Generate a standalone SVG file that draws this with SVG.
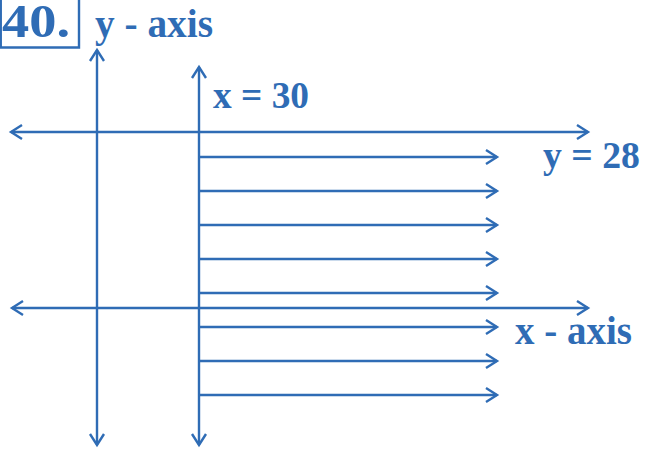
<svg xmlns="http://www.w3.org/2000/svg" width="645" height="450" viewBox="0 0 645 450">
  <style>
    .ln { stroke: #2f6cb5; stroke-width: 2.4; fill: none; }
    .lbl { font-family: "Liberation Serif", "Times New Roman", serif; font-weight: bold; fill: #2f6cb5; }
  </style>
  <defs>
    <marker id="head" markerUnits="userSpaceOnUse" markerWidth="16" markerHeight="18" viewBox="-13 -9 16 18" refX="0" refY="0" orient="auto-start-reverse">
      <path d="M-11,-7 L0,0 L-11,7" fill="none" stroke="#2f6cb5" stroke-width="2.4"/>
    </marker>
  </defs>

  <rect width="645" height="450" fill="#ffffff"/>

  <!-- question number -->
  <g id="qnum">
    <path class="ln" d="M0.75,-2 V47.5 H79 V-2" stroke-width="1.5"/>
    <text class="lbl" x="2" y="37" font-size="46" textLength="68" lengthAdjust="spacingAndGlyphs">40.</text>
  </g>

  <!-- axes and lines -->
  <g id="connectors">
    <line id="y-axis" class="ln" x1="97" y1="445" x2="97" y2="50" marker-start="url(#head)" marker-end="url(#head)"/>
    <line id="x30" class="ln" x1="199" y1="445" x2="199" y2="67" marker-start="url(#head)" marker-end="url(#head)"/>
    <line id="y28" class="ln" x1="11" y1="132" x2="588" y2="132" marker-start="url(#head)" marker-end="url(#head)"/>
    <line id="x-axis" class="ln" x1="12" y1="308" x2="588" y2="308" marker-start="url(#head)" marker-end="url(#head)"/>
    <g id="region-arrows">
      <line class="ln" x1="199" y1="157" x2="497" y2="157" marker-end="url(#head)"/>
      <line class="ln" x1="199" y1="191" x2="497" y2="191" marker-end="url(#head)"/>
      <line class="ln" x1="199" y1="225" x2="497" y2="225" marker-end="url(#head)"/>
      <line class="ln" x1="199" y1="259" x2="497" y2="259" marker-end="url(#head)"/>
      <line class="ln" x1="199" y1="293" x2="497" y2="293" marker-end="url(#head)"/>
      <line class="ln" x1="199" y1="327" x2="497" y2="327" marker-end="url(#head)"/>
      <line class="ln" x1="199" y1="361" x2="497" y2="361" marker-end="url(#head)"/>
      <line class="ln" x1="199" y1="395" x2="497" y2="395" marker-end="url(#head)"/>
    </g>
  </g>

  <!-- labels -->
  <g id="label-y-axis"><text class="lbl" x="95" y="37" font-size="40" textLength="118" lengthAdjust="spacingAndGlyphs">y - axis</text></g>
  <g id="label-x30"><text class="lbl" x="213" y="108" font-size="37" textLength="96" lengthAdjust="spacingAndGlyphs">x = 30</text></g>
  <g id="label-y28"><text class="lbl" x="543" y="168" font-size="38" textLength="97" lengthAdjust="spacingAndGlyphs">y = 28</text></g>
  <g id="label-x-axis"><text class="lbl" x="515" y="344" font-size="40" textLength="117" lengthAdjust="spacingAndGlyphs">x - axis</text></g>
</svg>
